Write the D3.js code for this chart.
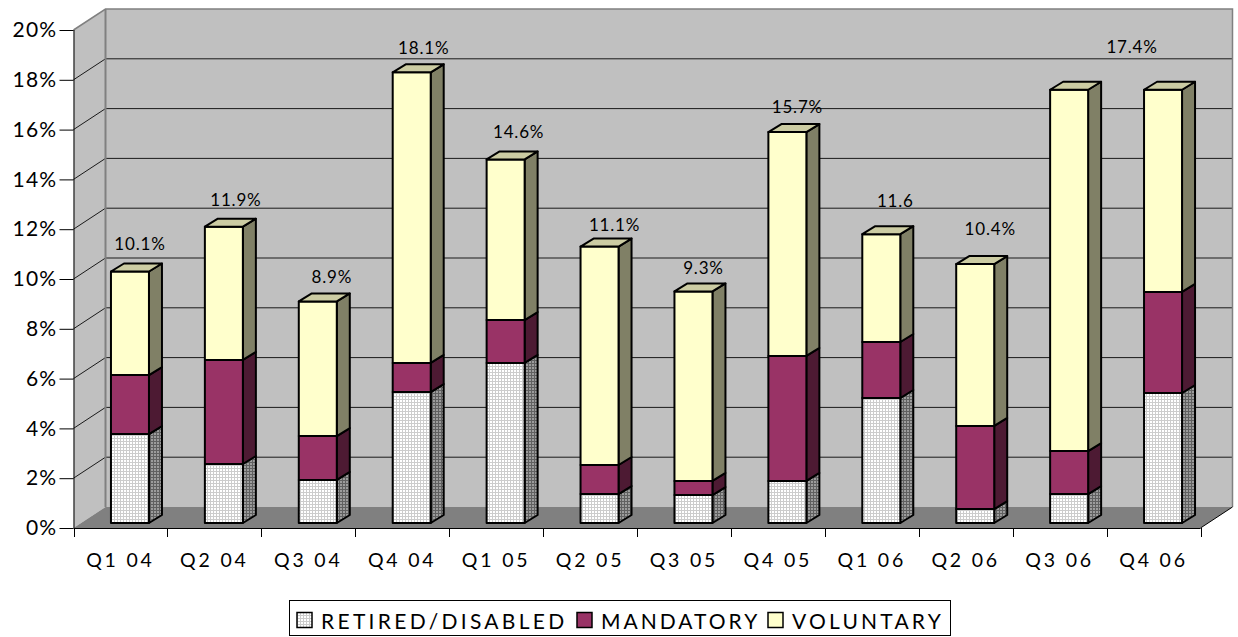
<!DOCTYPE html>
<html>
<head>
<meta charset="utf-8">
<script src="https://cdn.jsdelivr.net/npm/d3@7"></script>
<style>
  html, body { margin: 0; padding: 0; background: #fff; }
  text { font-family: "Lato", sans-serif; fill: #000; }
</style>
</head>
<body>
<svg id="chart" width="1238" height="637"></svg>
<script>
var quarters = ['Q1 04', 'Q2 04', 'Q3 04', 'Q4 04', 'Q1 05', 'Q2 05', 'Q3 05', 'Q4 05', 'Q1 06', 'Q2 06', 'Q3 06', 'Q4 06'];
var retired = [3.57, 2.37, 1.73, 5.26, 6.43, 1.16, 1.12, 1.69, 5.02, 0.56, 1.16, 5.22];
var mandatory = [2.37, 4.18, 1.76, 1.17, 1.72, 1.17, 0.57, 5.02, 2.25, 3.34, 1.73, 4.06];
var voluntary = [4.16, 5.35, 5.41, 11.67, 6.45, 8.77, 7.61, 8.99, 4.33, 6.50, 14.51, 8.12];
var totalLabels = ['10.1%', '11.9%', '8.9%', '18.1%', '14.6%', '11.1%', '9.3%', '15.7%', '11.6', '10.4%', null, '17.4%'];
var yTicks = [0, 2, 4, 6, 8, 10, 12, 14, 16, 18, 20];

// px nudges for the total labels, relative to the top of each column
var labelLift = [28, 27, 25, 25, 28, 22, 24, 26, 34, 36, 0, 43];
var labelShift = [10, 12, 14, 12, 13, 15, 10, 10, 14, 15, 0, -31];

var depthX = 32, depthY = 21;       // wall offset of the 3D box
var barDepthX = 13, barDepthY = 8;  // depth of a single column
var barW = 38;

var svg = d3.select('#chart');

var x = d3.scaleBand().domain(quarters).range([73.5, 1200.5]);
var y = d3.scaleLinear().domain([0, 20]).range([528, 30]);

// fine grid fill for the retired/disabled part
var defs = svg.append('defs');
function gridPattern(id, bg, line) {
    var p = defs.append('pattern').attr('id', id)
        .attr('patternUnits', 'userSpaceOnUse')
        .attr('width', 3).attr('height', 3);
    p.append('rect').attr('width', 3).attr('height', 3).attr('fill', bg);
    p.append('path').attr('d', 'M0 .5H3M.5 0V3').attr('stroke', line).attr('stroke-width', 1).attr('fill', 'none');
}
gridPattern('gridFront', '#ffffff', '#cccccc');
gridPattern('gridSide', '#9c9c9c', '#606060');

var series = [
    { name: 'RETIRED/DISABLED', values: retired, front: 'url(#gridFront)', side: 'url(#gridSide)' },
    { name: 'MANDATORY', values: mandatory, front: '#993366', side: '#4d1a33' },
    { name: 'VOLUNTARY', values: voluntary, front: '#ffffcc', side: '#808066', top: '#cccca3' }
];

// walls and floor
var x0 = x.range()[0], x1 = x.range()[1];
var wall = svg.append('g');
wall.append('path')
    .attr('d', 'M' + [x0, y(0)] + 'L' + [x0 + depthX, y(0) - depthY] + 'V' + (y(20) - depthY) + 'L' + [x0, y(20)] + 'Z')
    .attr('fill', '#c0c0c0');
wall.append('rect')
    .attr('x', x0 + depthX).attr('y', y(20) - depthY)
    .attr('width', x1 - x0).attr('height', y(0) - y(20))
    .attr('fill', '#c0c0c0');
wall.append('path')
    .attr('d', 'M' + [x0, y(0)] + 'H' + x1 + 'L' + [x1 + depthX, y(0) - depthY] + 'H' + (x0 + depthX) + 'Z')
    .attr('fill', '#808080');

wall.selectAll('path.grid').data(yTicks.slice(1, -1)).enter().append('path')
    .attr('class', 'grid')
    .attr('d', function (d) {
        return 'M' + [x0, y(d)] + 'L' + [x0 + depthX, y(d) - depthY] + 'H' + (x1 + depthX);
    })
    .attr('fill', 'none').attr('stroke', '#1a1a1a').attr('stroke-width', 1);

// wall outline
wall.append('path')
    .attr('d', 'M' + [x0, y(20)] + 'L' + [x0 + depthX, y(20) - depthY] + 'H' + (x1 + depthX) + 'V' + (y(0) - depthY))
    .attr('fill', 'none').attr('stroke', '#808080').attr('stroke-width', 1.5);
wall.append('path')
    .attr('d', 'M' + [x0 + depthX, y(20) - depthY] + 'V' + (y(0) - depthY))
    .attr('fill', 'none').attr('stroke', '#808080').attr('stroke-width', 2);
wall.append('path')
    .attr('d', 'M' + [x1, y(0)] + 'L' + [x1 + depthX, y(0) - depthY])
    .attr('fill', 'none').attr('stroke', '#000').attr('stroke-width', 1);

// columns
var baseY = y(0) - 5;
var unit = y(0) - y(1);
var cols = svg.append('g').selectAll('g').data(quarters).enter().append('g');

cols.each(function (q, i) {
    var g = d3.select(this);
    var left = x(q) + x.bandwidth() / 2 + 9.5 - barW / 2;
    var right = left + barW;
    var acc = 0;
    series.forEach(function (s) {
        var yb = baseY - acc * unit;
        acc += s.values[i];
        var yt = baseY - acc * unit;
        g.append('path')
            .attr('d', 'M' + [right, yb] + 'L' + [right + barDepthX, yb - barDepthY] + 'V' + (yt - barDepthY) + 'L' + [right, yt] + 'Z')
            .attr('fill', s.side)
            .attr('stroke', '#000').attr('stroke-width', 2).attr('stroke-linejoin', 'round');
        g.append('rect')
            .attr('x', left).attr('y', yt)
            .attr('width', barW).attr('height', yb - yt)
            .attr('fill', s.front)
            .attr('stroke', '#000').attr('stroke-width', 2).attr('stroke-linejoin', 'round');
        if (s.top) {
            g.append('path')
                .attr('d', 'M' + [left, yt] + 'L' + [left + barDepthX, yt - barDepthY] + 'H' + (right + barDepthX) + 'L' + [right, yt] + 'Z')
                .attr('fill', s.top)
                .attr('stroke', '#000').attr('stroke-width', 2).attr('stroke-linejoin', 'round');
            if (totalLabels[i]) {
                g.append('text')
                    .attr('x', (left + right) / 2 + labelShift[i])
                    .attr('y', yt - labelLift[i])
                    .attr('text-anchor', 'middle')
                    .attr('dominant-baseline', 'central')
                    .attr('font-size', 17)
                    .attr('letter-spacing', 0.8)
                    .text(totalLabels[i]);
            }
        }
    });
});

// axes
var yAxis = d3.axisLeft(y).tickValues(yTicks).tickSize(14).tickPadding(2)
    .tickFormat(function (d) { return d + '%'; });
var yG = svg.append('g').attr('transform', 'translate(' + x0 + ',0)').call(yAxis);
yG.selectAll('text').attr('font-size', 21).attr('letter-spacing', 1.3);
yG.selectAll('line').attr('stroke', '#000');
yG.select('.domain').attr('stroke', '#000').attr('d', 'M0.5,' + y(20) + 'V' + y(0));

var xAxis = d3.axisBottom(x).tickSize(0).tickPadding(25);
var xG = svg.append('g').attr('transform', 'translate(0,' + y(0) + ')').call(xAxis);
xG.selectAll('text').attr('font-size', 19.5).attr('letter-spacing', 2.8);
xG.select('.domain').attr('stroke', '#000').attr('d', 'M' + x0 + ',0.5H' + x1);
xG.selectAll('line.edge').data(quarters.concat(['end'])).enter().append('line')
    .attr('class', 'edge')
    .attr('x1', function (d, i) { return Math.round(x0 + i * x.step()) + 0.5; })
    .attr('x2', function (d, i) { return Math.round(x0 + i * x.step()) + 0.5; })
    .attr('y1', 0).attr('y2', 9)
    .attr('stroke', '#000');

// legend
var legend = svg.append('g');
legend.append('rect')
    .attr('x', 289.5).attr('y', 600.5).attr('width', 661).attr('height', 35)
    .attr('fill', '#fff').attr('stroke', '#000');
var legendX = [297, 577, 768];
var legendSpacing = [3.3, 3.0, 3.2];
series.forEach(function (s, i) {
    legend.append('rect')
        .attr('x', legendX[i]).attr('y', 612.5).attr('width', 15).attr('height', 15)
        .attr('fill', s.front).attr('stroke', '#000').attr('stroke-width', 1.5);
    legend.append('text')
        .attr('x', legendX[i] + 24).attr('y', 620)
        .attr('dominant-baseline', 'central')
        .attr('font-size', 21).attr('letter-spacing', legendSpacing[i])
        .text(s.name);
});
</script>
</body>
</html>
